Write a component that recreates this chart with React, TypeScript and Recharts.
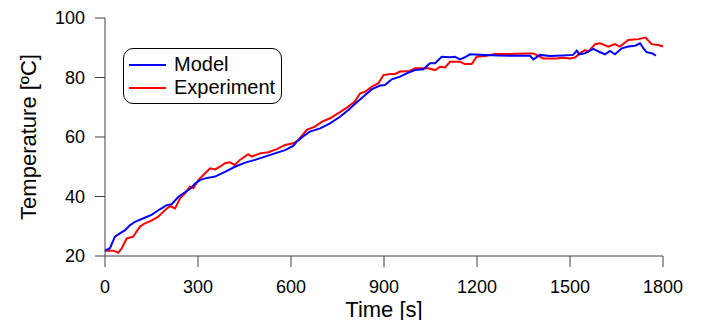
import React from 'react';
import { LineChart, Line, XAxis, YAxis, Legend } from 'recharts';

// Values (time in s, temperature in ºC).
const modelTime = [
  0, 16, 32, 48, 65, 81, 97, 124, 150, 177, 199, 215, 237, 253, 274, 290, 306, 323, 355, 387,
  419, 452, 484, 516, 548, 581, 607, 618, 640, 661, 694, 726, 758, 785, 806, 833, 860, 887, 903,
  925, 952, 973, 1000, 1027, 1048, 1065, 1086, 1113, 1129, 1145, 1161, 1177, 1226, 1270, 1320,
  1371, 1382, 1403, 1435, 1478, 1510, 1522, 1530, 1548, 1575, 1597, 1613, 1629, 1645, 1667,
  1688, 1710, 1726, 1737, 1747, 1766, 1777,
];
const modelTemp = [
  21.8, 22.6, 26.5, 27.6, 28.7, 30.4, 31.5, 32.7, 33.8, 35.7, 37.1, 37.4, 39.9, 41.1, 42.5, 44.3,
  45.5, 46.1, 46.7, 48.3, 50.0, 51.4, 52.3, 53.4, 54.5, 55.6, 57.0, 58.4, 60.3, 61.8, 62.9, 64.6,
  66.8, 69.1, 71.1, 73.5, 76.0, 77.3, 77.5, 79.4, 80.3, 81.4, 82.5, 82.8, 84.8, 84.8, 87.0, 86.8,
  87.0, 86.1, 86.8, 87.8, 87.6, 87.4, 87.3, 87.3, 86.1, 87.6, 87.2, 87.4, 87.6, 89.0, 87.8, 88.1,
  89.6, 88.5, 87.8, 88.9, 87.8, 89.8, 90.4, 90.7, 91.5, 89.8, 88.5, 88.1, 87.3,
];

const expTime = [
  0, 27, 43, 54, 70, 91, 113, 129, 150, 172, 194, 210, 226, 242, 258, 274, 285, 301, 323, 339,
  355, 371, 387, 403, 419, 435, 462, 473, 500, 527, 554, 581, 607, 624, 651, 677, 699, 726, 753,
  785, 806, 823, 839, 860, 882, 898, 919, 935, 952, 984, 1000, 1043, 1065, 1081, 1097, 1113, 1145,
  1161, 1183, 1199, 1226, 1260, 1301, 1360, 1382, 1414, 1457, 1475, 1500, 1516, 1532, 1548, 1559,
  1581, 1597, 1624, 1645, 1661, 1688, 1720, 1744, 1763, 1785, 1800,
];
const expTemp = [
  21.8, 21.8, 21.1, 22.6, 25.9, 26.5, 29.9, 31.0, 31.9, 33.2, 35.5, 36.8, 36.0, 39.4, 41.1, 43.3,
  42.8, 45.5, 47.8, 49.5, 49.1, 50.0, 51.2, 51.5, 50.6, 52.3, 54.2, 53.4, 54.5, 54.9, 55.9, 57.3,
  57.9, 59.0, 62.4, 63.5, 65.1, 66.3, 68.0, 70.2, 71.9, 74.7, 75.2, 76.9, 78.1, 80.8, 81.2, 81.2,
  82.0, 82.2, 83.1, 83.1, 82.5, 83.6, 83.4, 85.3, 85.3, 84.5, 84.5, 87.0, 87.2, 87.9, 87.9, 88.1,
  88.1, 86.4, 86.4, 86.6, 86.4, 86.7, 88.1, 89.2, 88.7, 91.2, 91.5, 90.4, 91.2, 90.4, 92.6, 92.9,
  93.4, 91.2, 90.9, 90.4,
];

const xTicks = [0, 300, 600, 900, 1200, 1500, 1800];
const yTicks = [20, 40, 60, 80, 100];

const modelData = modelTime.map((t, i) => ({ t, temp: modelTemp[i] }));
const expData = expTime.map((t, i) => ({ t, temp: expTemp[i] }));

const FONT = '"Liberation Sans", Arial, sans-serif';
const AXIS = '#404040';

const series = [
  { name: 'Model', color: '#0000ff' },
  { name: 'Experiment', color: '#ff0000' },
];

// legend box with rounded corners, like the original figure
const LegendBox = () => (
  <div
    style={{
      border: '1px solid #000',
      borderRadius: 10,
      background: '#fff',
      padding: '4px 6px 4px 5px',
      fontFamily: FONT,
      fontSize: 20,
      lineHeight: '23px',
      color: '#000',
      whiteSpace: 'nowrap',
    }}
  >
    {series.map((s) => (
      <div key={s.name} style={{ display: 'flex', alignItems: 'center' }}>
        <span
          style={{ display: 'inline-block', width: 37, height: 2, background: s.color, marginRight: 8 }}
        />
        <span>{s.name}</span>
      </div>
    ))}
  </div>
);

const YTitle = ({ viewBox }: any) => {
  const x = viewBox.x + 28;
  const y = viewBox.y + viewBox.height / 2;
  return (
    <text
      x={x}
      y={y}
      transform={`rotate(-90 ${x} ${y})`}
      textAnchor="middle"
      dominantBaseline="central"
      fontFamily={FONT}
      fontSize={22}
      fill="#000"
    >
      Temperature [ºC]
    </text>
  );
};

export default function App() {
  return (
    <div style={{ position: 'absolute', left: 0, top: 0, width: 704, height: 320, background: '#fff' }}>
      <LineChart width={704} height={320} margin={{ top: 18, right: 41, bottom: 0, left: 0 }}>
        <XAxis
          type="number"
          dataKey="t"
          domain={[0, 1800]}
          ticks={xTicks}
          allowDuplicatedCategory={false}
          height={64}
          stroke={AXIS}
          tickSize={11}
          tickMargin={13}
          tick={{ fill: '#000', fontSize: 18, fontFamily: FONT }}
          label={{ value: 'Time [s]', position: 'insideBottom', offset: 3, fill: '#000', fontSize: 22, fontFamily: FONT }}
        />
        <YAxis
          type="number"
          domain={[20, 100]}
          ticks={yTicks}
          width={105}
          stroke={AXIS}
          tickSize={10}
          tickMargin={10}
          tick={{ fill: '#000', fontSize: 18, fontFamily: FONT }}
          label={<YTitle />}
        />
        <Legend
          layout="horizontal"
          verticalAlign="middle"
          align="center"
          wrapperStyle={{ top: 48, left: 123, width: 'auto' }}
          content={() => <LegendBox />}
        />
        <Line
          data={expData}
          dataKey="temp"
          name="Experiment"
          type="linear"
          stroke="#ff0000"
          strokeWidth={2}
          dot={false}
          isAnimationActive={false}
        />
        <Line
          data={modelData}
          dataKey="temp"
          name="Model"
          type="linear"
          stroke="#0000ff"
          strokeWidth={2}
          dot={false}
          isAnimationActive={false}
        />
      </LineChart>
    </div>
  );
}
